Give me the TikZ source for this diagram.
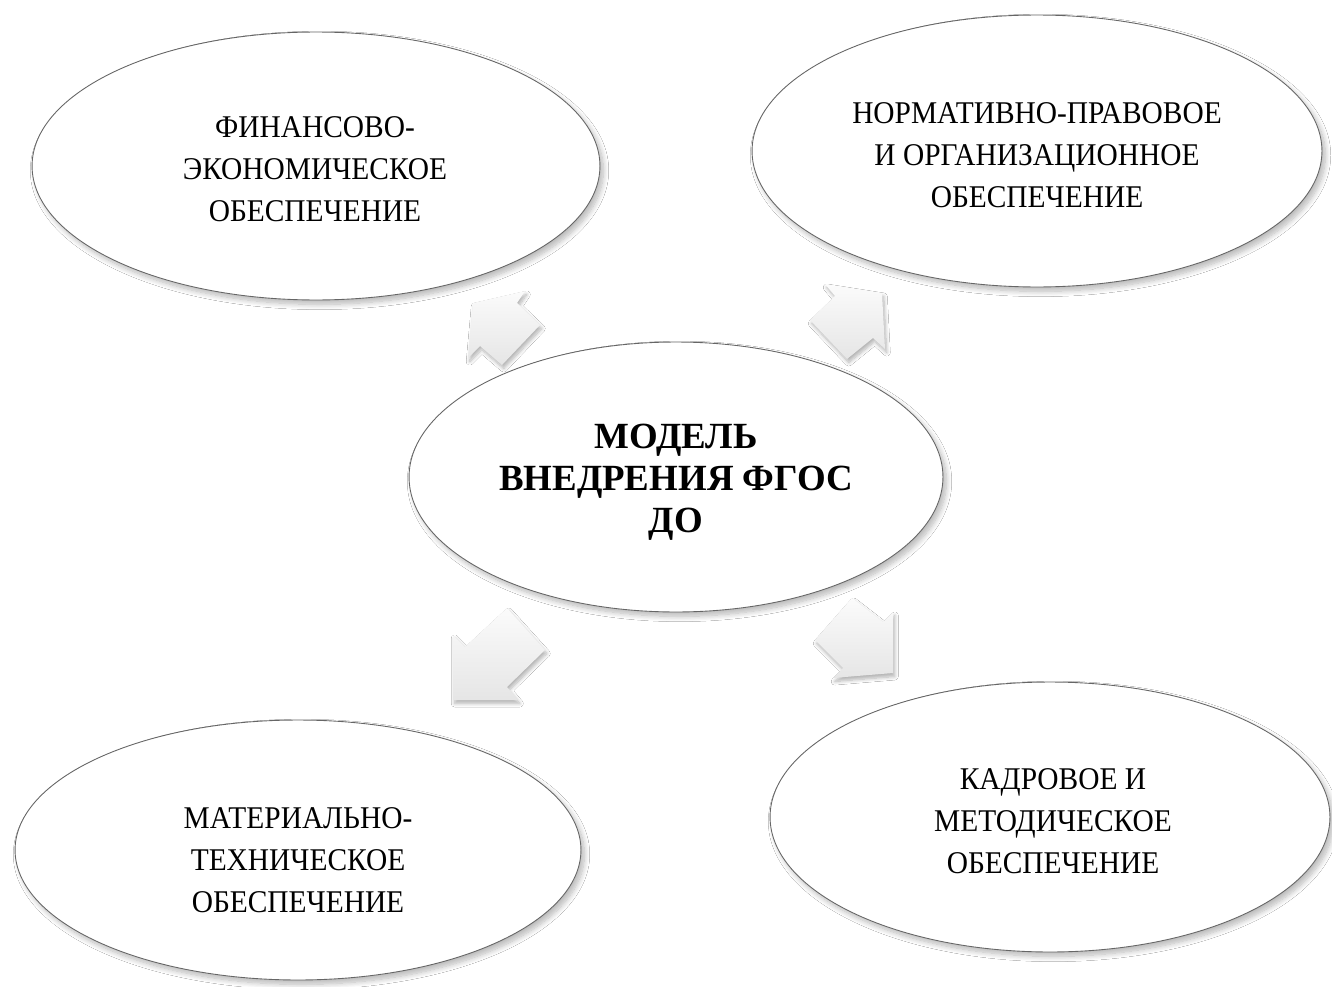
\documentclass[tikz,border=0pt]{standalone}
\usepackage{fontspec}
\setmainfont{Liberation Serif}[FakeStretch=0.93]
\newfontfamily\titlefont{Liberation Serif}
\usetikzlibrary{shapes.geometric,shadows.blur}
\begin{document}
\begin{tikzpicture}[x=0.02cm,y=-0.02cm,
  oval/.style={ellipse, draw=black!60, line width=0.5pt, fill=white, inner sep=0pt,
    blur shadow={shadow xshift=2pt, shadow yshift=-2.5pt, shadow blur radius=3pt,
      shadow blur steps=10, shadow opacity=28}},
  lbl/.style={align=center, inner sep=0pt, font=\fontsize{18}{23.9}\selectfont},
  ttl/.style={align=center, inner sep=0pt, font=\titlefont\bfseries\fontsize{21}{23.9}\selectfont},
  blockarrow/.style={top color=gray!3, bottom color=gray!20, draw=none,
    blur shadow={shadow xshift=1pt, shadow yshift=-2pt, shadow blur radius=2pt,
      shadow blur steps=8, shadow opacity=30}}
]
\useasboundingbox[fill=white] (0,0) rectangle (1332,987);

% block arrows
\path[blockarrow] (473,303) -- (525,291) -- (517,303) -- (540,325) -- (502,365) -- (480,346) -- (468,358) -- cycle;
\path[blockarrow] (882,293) -- (825,284) -- (835,296) -- (810,320) -- (847,359) -- (873,338) -- (885,349) -- cycle;
\path[blockarrow] (453,700) -- (453,635) -- (465,647) -- (507,608) -- (545,650) -- (507,687) -- (518,700) -- cycle;
\path[blockarrow] (893,673) -- (833,678) -- (843,668) -- (815,640) -- (852,598) -- (883,622) -- (893,612) -- cycle;

% ellipses
\node[oval, minimum width=11.36cm, minimum height=5.36cm] (fin) at (316,166) {};
\node[oval, minimum width=11.4cm, minimum height=5.44cm] (norm) at (1037,151) {};
\node[oval, minimum width=10.68cm, minimum height=5.4cm] (model) at (676,477) {};
\node[oval, minimum width=11.32cm, minimum height=5.2cm] (mat) at (298,850) {};
\node[oval, minimum width=11.2cm, minimum height=5.4cm] (kadr) at (1050,817) {};

% texts
\node[lbl] (finT) at (315,169) {ФИНАНСОВО-\\ЭКОНОМИЧЕСКОЕ\\ОБЕСПЕЧЕНИЕ};
\node[lbl] (normT) at (1037,155) {НОРМАТИВНО-ПРАВОВОЕ\\И ОРГАНИЗАЦИОННОЕ\\ОБЕСПЕЧЕНИЕ};
\node[ttl] (modelT) at (676,482) {МОДЕЛЬ\\ВНЕДРЕНИЯ ФГОС\\ДО};
\node[lbl] (matT) at (298,860) {МАТЕРИАЛЬНО-\\ТЕХНИЧЕСКОЕ\\ОБЕСПЕЧЕНИЕ};
\node[lbl] (kadrT) at (1053,821) {КАДРОВОЕ И\\МЕТОДИЧЕСКОЕ\\ОБЕСПЕЧЕНИЕ};
\end{tikzpicture}
\end{document}
